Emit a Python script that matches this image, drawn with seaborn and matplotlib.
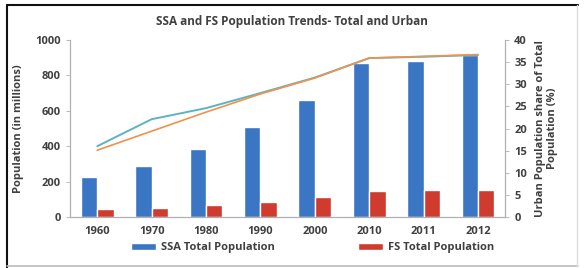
import numpy as np
import pandas as pd
import matplotlib
matplotlib.use("Agg")
import matplotlib.pyplot as plt
from matplotlib.lines import Line2D
import seaborn as sns

# values
years = ["1960", "1970", "1980", "1990", "2000", "2010", "2011", "2012"]
ssa_total = [228, 290, 382, 508, 661, 867, 883, 915]      # millions
fs_total = [43, 53, 68, 86, 115, 147, 151, 153]           # millions
ssa_urban_share = [16.0, 22.1, 24.6, 28.0, 31.5, 35.9, 36.2, 36.6]  # %
fs_urban_share = [15.1, 19.4, 23.7, 27.8, 31.4, 35.9, 36.3, 36.7]   # %

series_names = ["SSA Total Population", "FS Total Population"]
bar_colors = ["#3a76c4", "#cf3b2e"]
line_colors = ["#5db3c4", "#f0924a"]
text_color = "#404040"

sns.set_theme(style="white")
plt.rcParams["font.family"] = ["Open Sans", "DejaVu Sans"]

bars = pd.DataFrame({
    "year": years * 2,
    "population": ssa_total + fs_total,
    "series": [series_names[0]] * len(years) + [series_names[1]] * len(years),
})

fig = plt.figure(figsize=(5.84, 2.68), dpi=100)
ax = fig.add_axes([0.12, 0.19, 0.745, 0.661])

sns.barplot(data=bars, x="year", y="population", hue="series",
            palette=bar_colors, width=0.6, saturation=1, ax=ax)
ax.set_ylim(0, 1000)
ax.set_yticks(range(0, 1001, 200))
ax.set_xlim(-0.5, len(years) - 0.5)
ax.set_xlabel("")
ax.set_ylabel("Population (in millions)", fontsize=8, fontweight="bold",
              color=text_color, labelpad=8)

ax2 = ax.twinx()
x_pos = np.arange(len(years))
sns.lineplot(x=x_pos, y=ssa_urban_share, color=line_colors[0], lw=1.4, ax=ax2)
sns.lineplot(x=x_pos, y=fs_urban_share, color=line_colors[1], lw=1.2, ax=ax2)
ax2.set_ylim(0, 40)
ax2.set_yticks(range(0, 41, 5))
ax2.set_xlim(-0.5, len(years) - 0.5)
ax2.set_ylabel("Urban Population share of Total\nPopulation (%)", fontsize=8,
               fontweight="bold", color=text_color, labelpad=6, linespacing=1.1)

for a in (ax, ax2):
    a.tick_params(axis="both", labelsize=8, colors=text_color, length=3,
                  width=0.6, direction="out")
    for lab in a.get_xticklabels() + a.get_yticklabels():
        lab.set_fontweight("bold")
    for side in ("left", "right", "bottom"):
        a.spines[side].set_color("#b0b0b0")
        a.spines[side].set_linewidth(0.8)
    a.spines["top"].set_visible(False)
ax.tick_params(axis="y", left=True, color="#b0b0b0")
ax2.tick_params(axis="y", right=True, color="#b0b0b0")
ax.tick_params(axis="x", bottom=False)
ax.grid(False)
ax2.grid(False)

handles, labels = ax.get_legend_handles_labels()
ax.get_legend().remove()
leg = fig.legend(handles, labels, loc="center", bbox_to_anchor=(0.535, 0.075),
                 ncol=2, frameon=False, fontsize=8, handlelength=2.3,
                 handleheight=0.6, columnspacing=7.5, handletextpad=0.4)
for t in leg.get_texts():
    t.set_fontweight("bold")
    t.set_color(text_color)

fig.text(0.5, 0.918, "SSA and FS Population Trends- Total and Urban",
         ha="center", va="center", fontsize=8.5, fontweight="bold",
         color=text_color)

# frame around the whole chart: dark top/left, light bottom/right
fig.add_artist(Line2D([0.012, 0.99], [0.98, 0.98], transform=fig.transFigure,
                      color="#111111", lw=1.5))
fig.add_artist(Line2D([0.012, 0.012], [0.0, 0.98], transform=fig.transFigure,
                      color="#111111", lw=1.5))
fig.add_artist(Line2D([0.012, 0.99], [0.008, 0.008], transform=fig.transFigure,
                      color="#bbbbbb", lw=1.2))
fig.add_artist(Line2D([0.988, 0.988], [0.008, 0.98], transform=fig.transFigure,
                      color="#dddddd", lw=1.0))

fig.savefig("out.png", dpi=100)
